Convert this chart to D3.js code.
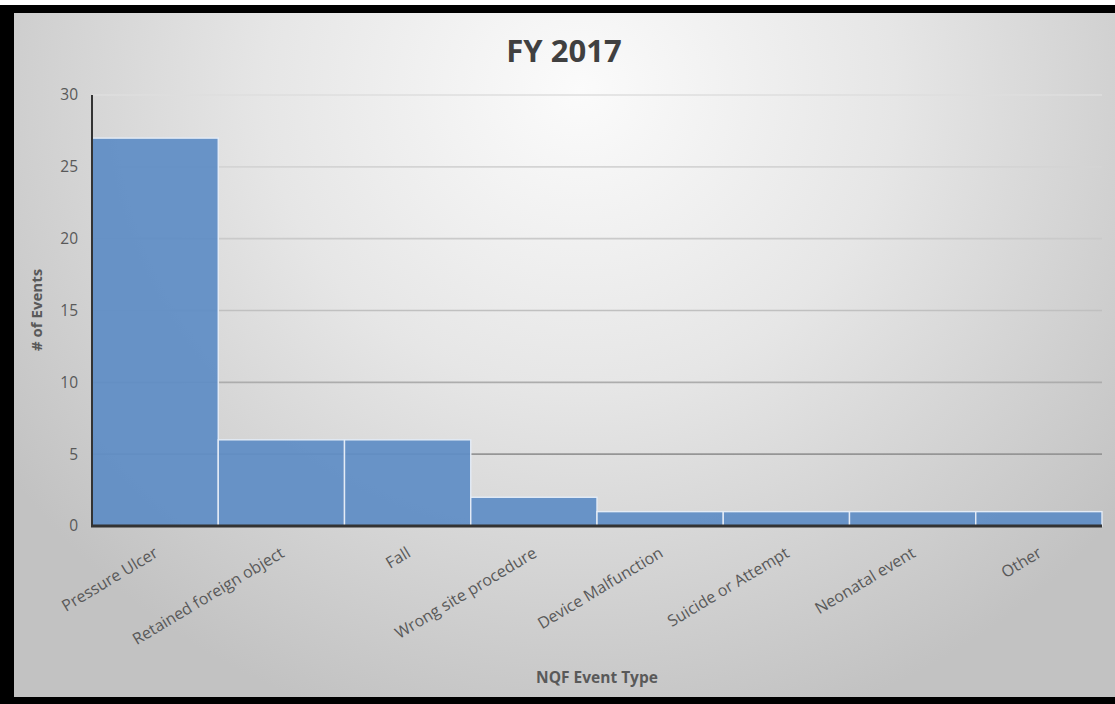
<!DOCTYPE html>
<html>
<head>
<meta charset="utf-8">
<script src="https://cdn.jsdelivr.net/npm/d3@7"></script>
<style>
  html, body { margin: 0; padding: 0; background: #ffffff; }
  svg { display: block; }
  text { font-family: "Open Sans", "Liberation Sans", sans-serif; }
</style>
</head>
<body>
<svg id="chart" width="1115" height="704"></svg>
<script>
// Serious reportable events by NQF type, fiscal year 2017
const categories = [
  "Pressure Ulcer", "Retained foreign object", "Fall", "Wrong site procedure",
  "Device Malfunction", "Suicide or Attempt", "Neonatal event", "Other"
];
const eventCounts = [27, 6, 6, 2, 1, 1, 1, 1];
const yTicks = [0, 5, 10, 15, 20, 25, 30];
const chartTitle = "FY 2017";
const xTitle = "NQF Event Type";
const yTitle = "# of Events";

const W = 1115, H = 704;
const frame = { x: 14, y: 13, w: W - 14, h: 697 - 13 };
const plot = { left: 92, right: 1102, top: 95, bottom: 526 };

const svg = d3.select("#chart");
const defs = svg.append("defs");

// soft radial shading of the chart area
const bg = defs.append("radialGradient")
  .attr("id", "bgGrad")
  .attr("gradientUnits", "userSpaceOnUse")
  .attr("cx", 580).attr("cy", 90).attr("r", 700)
  .attr("gradientTransform", "translate(580,90) scale(1,0.95) translate(-580,-90)");
bg.append("stop").attr("offset", 0).attr("stop-color", "#fbfbfb");
bg.append("stop").attr("offset", 0.45).attr("stop-color", "#e6e6e6");
bg.append("stop").attr("offset", 1).attr("stop-color", "#c2c2c2");

// gridlines fade from light at the top to darker near the baseline
const gridGrad = defs.append("linearGradient")
  .attr("id", "gridGrad")
  .attr("gradientUnits", "userSpaceOnUse")
  .attr("x1", 0).attr("x2", 0)
  .attr("y1", plot.top).attr("y2", plot.bottom);
gridGrad.append("stop").attr("offset", 0).attr("stop-color", "#dedede");
gridGrad.append("stop").attr("offset", 0.55).attr("stop-color", "#bdbdbd");
gridGrad.append("stop").attr("offset", 1).attr("stop-color", "#7e7e7e");

// outer frame
svg.append("rect").attr("x", 0).attr("y", 5).attr("width", W).attr("height", H - 5).attr("fill", "#000");
svg.append("rect")
  .attr("x", frame.x).attr("y", frame.y)
  .attr("width", frame.w).attr("height", frame.h)
  .attr("fill", "url(#bgGrad)");

const x = d3.scaleBand()
  .domain(categories)
  .range([plot.left, plot.right])
  .padding(0);

const y = d3.scaleLinear()
  .domain([0, 30])
  .range([plot.bottom, plot.top]);

// horizontal gridlines
svg.append("g")
  .selectAll("line")
  .data(yTicks.filter(d => d > 0))
  .join("line")
  .attr("x1", plot.left).attr("x2", plot.right)
  .attr("y1", d => y(d)).attr("y2", d => y(d))
  .attr("stroke", "url(#gridGrad)")
  .attr("stroke-width", 1.6);

// bars
const data = categories.map((c, i) => ({ c, v: eventCounts[i] }));
svg.append("g")
  .selectAll("rect")
  .data(data)
  .join("rect")
  .attr("x", d => x(d.c))
  .attr("y", d => y(d.v))
  .attr("width", x.bandwidth())
  .attr("height", d => y(0) - y(d.v))
  .attr("fill", "#5f8dc5")
  .attr("fill-opacity", 0.93)
  .attr("stroke", "#e4ecf6")
  .attr("stroke-width", 1.4);

// y axis
const yAxis = d3.axisLeft(y).tickValues(yTicks).tickSize(0).tickPadding(14);
const gy = svg.append("g").attr("transform", `translate(${plot.left},0)`).call(yAxis);
gy.select(".domain").remove();
gy.selectAll("text")
  .attr("fill", "#595959")
  .style("font-size", "15.5px");
svg.append("line")
  .attr("x1", plot.left).attr("x2", plot.left)
  .attr("y1", plot.top).attr("y2", plot.bottom)
  .attr("stroke", "#333").attr("stroke-width", 2);

// x axis
const xAxis = d3.axisBottom(x).tickSize(0).tickPadding(0);
const gx = svg.append("g").attr("transform", `translate(0,${plot.bottom})`).call(xAxis);
gx.select(".domain").remove();
gx.selectAll("text")
  .attr("fill", "#595959")
  .style("font-size", "16px")
  .attr("text-anchor", "end")
  .attr("dy", 0)
  .attr("transform", "translate(4,30) rotate(-31)");
svg.append("line")
  .attr("x1", plot.left - 1).attr("x2", plot.right)
  .attr("y1", plot.bottom).attr("y2", plot.bottom)
  .attr("stroke", "#333").attr("stroke-width", 3);

// titles
svg.append("text")
  .attr("x", 564).attr("y", 62)
  .attr("text-anchor", "middle")
  .attr("fill", "#404040")
  .style("font-size", "31px").style("font-weight", "bold")
  .text(chartTitle);

svg.append("text")
  .attr("x", (plot.left + plot.right) / 2).attr("y", 683)
  .attr("text-anchor", "middle")
  .attr("fill", "#595959")
  .style("font-size", "15.5px").style("font-weight", "bold")
  .text(xTitle);

svg.append("text")
  .attr("transform", `translate(42,310) rotate(-90)`)
  .attr("text-anchor", "middle")
  .attr("fill", "#595959")
  .style("font-size", "15px").style("font-weight", "bold")
  .text(yTitle);
</script>
</body>
</html>
